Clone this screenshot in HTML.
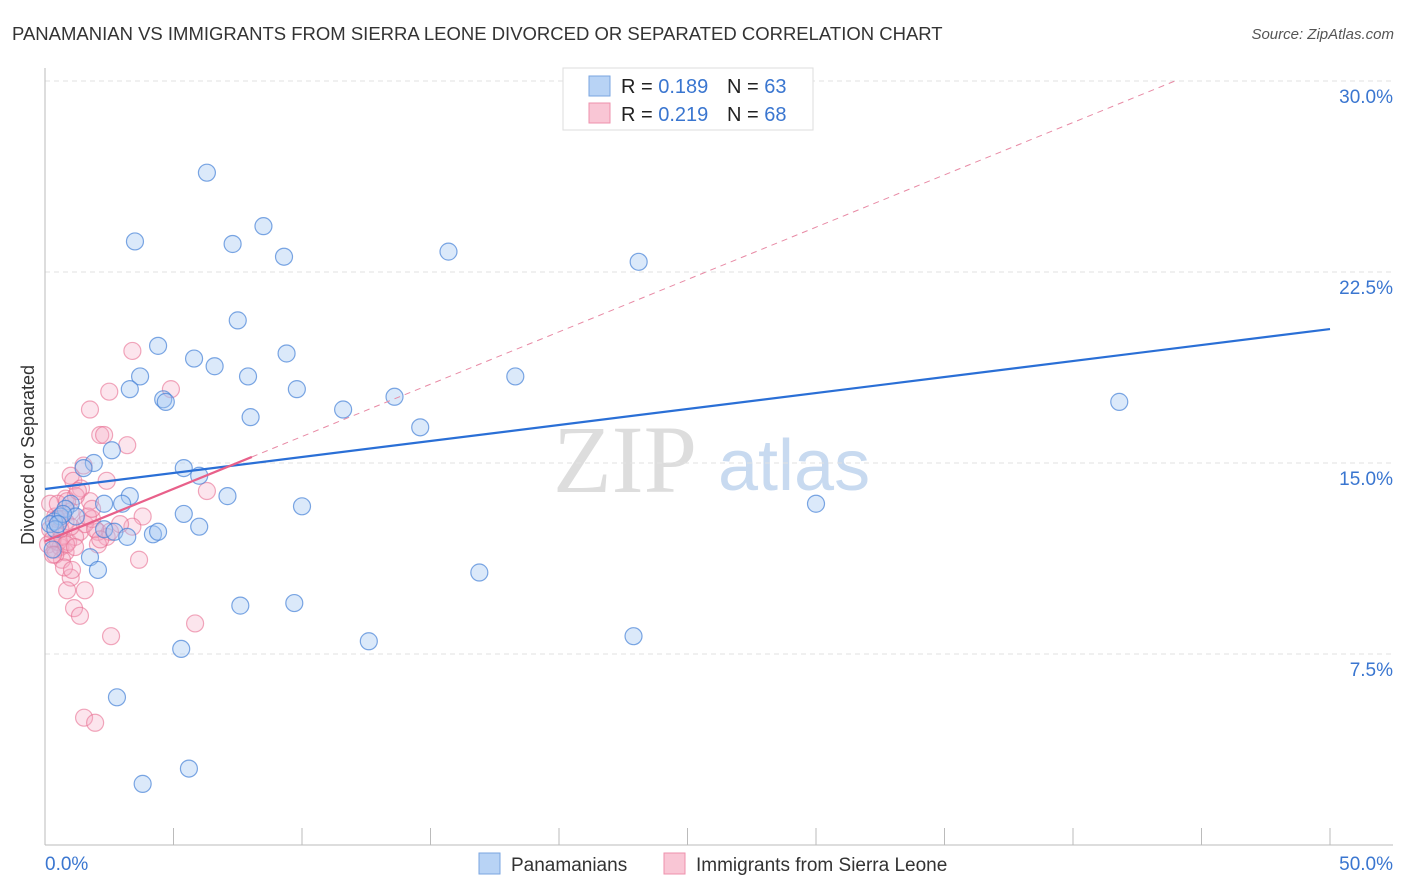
<!DOCTYPE html>
<html><head><meta charset="utf-8"><style>
body{margin:0;background:#fff;font-family:"Liberation Sans",sans-serif;}
svg{display:block}
</style></head><body>
<svg id="c" width="1406" height="892">
<text x="12" y="40" font-size="18.5" fill="#333">PANAMANIAN VS IMMIGRANTS FROM SIERRA LEONE DIVORCED OR SEPARATED CORRELATION CHART</text>
<text x="1394" y="39" font-size="15" fill="#555" font-style="italic" text-anchor="end">Source: ZipAtlas.com</text>
<text transform="translate(34,455) rotate(-90)" font-size="18" fill="#333" text-anchor="middle">Divorced or Separated</text>
<text x="553" y="492" font-size="96" fill="#ddd" font-family="Liberation Serif,serif">ZIP</text>
<text x="718" y="490" font-size="72" fill="#c8daf0">atlas</text>
<g id="grid"></g><g id="pts"></g><g id="lines"></g>
<g>
<rect x="563" y="68" width="250" height="62" fill="#fff" stroke="#ddd"/>
<rect x="589" y="76" width="21" height="20" fill="#b8d3f5" stroke="#7aa6e0"/>
<rect x="589" y="103" width="21" height="20" fill="#f9c6d5" stroke="#ee90ac"/>
<text x="621" y="93" font-size="20" fill="#222">R = <tspan fill="#3a76d0">0.189</tspan></text>
<text x="727" y="93" font-size="20" fill="#222">N = <tspan fill="#3a76d0">63</tspan></text>
<text x="621" y="121" font-size="20" fill="#222">R = <tspan fill="#3a76d0">0.219</tspan></text>
<text x="727" y="121" font-size="20" fill="#222">N = <tspan fill="#3a76d0">68</tspan></text>
</g>
<g>
<rect x="479" y="853" width="21" height="21" fill="#b8d3f5" stroke="#7aa6e0"/>
<text x="511" y="871" font-size="19" fill="#333">Panamanians</text>
<rect x="664" y="853" width="21" height="21" fill="#f9c6d5" stroke="#ee90ac"/>
<text x="696" y="871" font-size="19" fill="#333">Immigrants from Sierra Leone</text>
</g>
<text x="45" y="870" font-size="19" fill="#3a76d0">0.0%</text>
<text x="1393" y="870" font-size="19" fill="#3a76d0" text-anchor="end">50.0%</text>
</svg>
<script>
const yTicks=[7.5,15,22.5,30];
const yTickLabels=["7.5%","15.0%","22.5%","30.0%"];
const blueX=[6.3,3.5,7.3,8.5,9.3,15.7,23.1,7.5,4.4,5.8,9.4,6.6,3.7,7.9,3.3,4.6,4.7,9.8,18.3,13.6,11.6,8.0,14.6,41.8,2.6,1.9,1.5,5.4,6.0,3.3,7.1,3.0,2.3,1.0,0.8,10.0,30.0,5.4,0.6,1.2,0.35,6.0,2.3,2.7,3.2,4.2,4.4,1.75,2.06,16.9,7.6,9.7,12.6,22.9,5.3,2.8,5.6,3.8,0.2,0.4,0.7,0.3,0.5];
const blueY=[26.4,23.7,23.6,24.3,23.1,23.3,22.9,20.6,19.6,19.1,19.3,18.8,18.4,18.4,17.9,17.5,17.4,17.9,18.4,17.6,17.1,16.8,16.4,17.4,15.5,15.0,14.8,14.8,14.5,13.7,13.7,13.4,13.4,13.4,13.2,13.3,13.4,13.0,12.9,12.9,12.7,12.5,12.4,12.3,12.1,12.2,12.3,11.3,10.8,10.7,9.4,9.5,8.0,8.2,7.7,5.8,3.0,2.4,12.6,12.4,13.0,11.6,12.6];
const pinkX=[3.4,2.5,4.9,1.75,2.15,2.3,3.2,1.0,1.5,1.1,2.4,1.4,6.3,0.8,1.75,1.2,3.8,3.4,2.4,2.06,1.0,0.8,0.4,0.2,0.12,0.4,0.6,0.8,0.5,0.3,0.66,0.9,1.36,1.55,1.83,1.17,0.6,1.0,0.66,0.4,2.06,3.66,1.0,0.86,1.55,1.13,1.36,5.84,2.57,1.52,1.95,0.2,0.5,0.86,1.28,0.74,1.05,0.47,1.67,2.53,2.92,1.95,0.82,0.31,1.17,0.62,2.15,1.83];
const pinkY=[19.4,17.8,17.9,17.1,16.1,16.1,15.7,14.5,14.9,14.3,14.3,14.0,13.9,13.6,13.5,13.7,12.9,12.5,12.1,12.3,13.1,12.7,12.9,12.4,11.8,11.6,11.7,11.5,11.9,12.0,12.1,11.9,12.3,12.6,12.8,12.1,12.4,12.5,11.2,11.4,11.8,11.2,10.5,10.0,10.0,9.3,9.0,8.7,8.2,5.0,4.8,13.4,13.4,13.5,13.9,10.9,10.8,12.8,12.9,12.3,12.6,12.4,11.8,11.4,11.7,12.8,12.0,13.2];
const blueLine=[13.98,0.1256];
const pinkLine=[11.93,0.411];
const X=v=>45+v/50*1285, Y=v=>845-v/30*764;
const NS="http://www.w3.org/2000/svg";
function mk(tag,attrs,parent){const e=document.createElementNS(NS,tag);for(const k in attrs)e.setAttribute(k,attrs[k]);parent.appendChild(e);return e;}
const g=document.getElementById('grid');
yTicks.forEach((t,i)=>{
 const l=mk('line',{x1:45,x2:1393,y1:Y(t),y2:Y(t),stroke:'#e2e2e2','stroke-dasharray':'5,4'},g);
 
 
 const tx=mk('text',{x:1393,y:Y(t)+22,'font-size':19,fill:'#3a76d0','text-anchor':'end'},g);
 tx.textContent=yTickLabels[i];
 
 
});
const ax=mk('line',{x1:45,x2:45,y1:68,y2:845,stroke:'#bbb'},g);


const bx=mk('line',{x1:45,x2:1393,y1:845,y2:845,stroke:'#bbb'},g);


for(let i=0;i<=10;i++){
 const t=mk('line',{x1:X(i*5),x2:X(i*5),y1:828,y2:845,stroke:'#bbb'},g);
 
 
}
const p=document.getElementById('pts');
pinkX.forEach((x,i)=>{
 const c=mk('circle',{cx:X(x),cy:Y(pinkY[i]),r:8.5,fill:'rgba(245,170,195,0.3)',stroke:'rgba(232,110,145,0.6)','stroke-width':1.2},p);
 
 
});
blueX.forEach((x,i)=>{
 const c=mk('circle',{cx:X(x),cy:Y(blueY[i]),r:8.5,fill:'rgba(160,198,242,0.38)',stroke:'rgba(70,130,215,0.7)','stroke-width':1.2},p);
 
 
});
const L=document.getElementById('lines');
const bl=mk('line',{x1:X(0),y1:Y(blueLine[0]),x2:X(50),y2:Y(blueLine[0]+50*blueLine[1]),stroke:'#2a6fd6','stroke-width':2.2},L);


const xEnd=(30-pinkLine[0])/pinkLine[1];
const pd=mk('line',{x1:X(8.05),y1:Y(pinkLine[0]+8.05*pinkLine[1]),x2:X(xEnd),y2:Y(30),stroke:'#e88aa5','stroke-width':1,'stroke-dasharray':'6,5'},L);


const ps=mk('line',{x1:X(0),y1:Y(pinkLine[0]),x2:X(8.05),y2:Y(pinkLine[0]+8.05*pinkLine[1]),stroke:'#e8608a','stroke-width':2.2},L);


</script>
</body></html>
